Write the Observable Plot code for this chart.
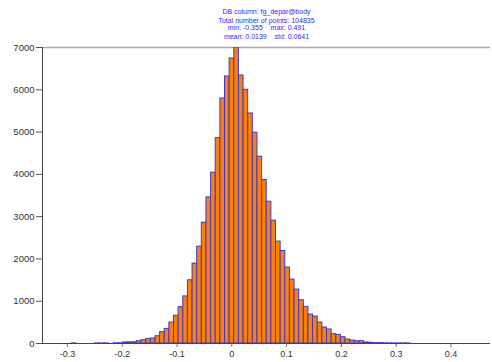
<!DOCTYPE html>
<html>
<head>
<meta charset="utf-8">
<script src="https://cdn.jsdelivr.net/npm/d3@7"></script>
<script src="https://cdn.jsdelivr.net/npm/@observablehq/plot@0.6"></script>
<style>
  html, body { margin: 0; padding: 0; background: #fff; }
  svg { display: block; }
</style>
</head>
<body>
<div id="chart"></div>
<script>
// Title lines
const titleLines = [
  "DB column: fg_depar@body",
  "Total number of points: 104835",
  "min: -0.355    max: 0.491",
  "mean: 0.0139    std: 0.0641"
];

// Histogram bins: centres at binStart + i * binWidth (i = 0..100)
const binStart = -0.355;
const binWidth = 0.00846;
const counts = [
  1, 0, 0, 0, 0, 0, 0, 0, 2, 0,
  0, 0, 0, 3, 1, 2, 0, 4, 5, 24,
  27, 30, 55, 78, 108, 118, 172, 267, 345, 495,
  656, 858, 1113, 1495, 1890, 2290, 2858, 3456, 4040, 4857,
  5795, 6315, 6740, 7000, 6338, 6000, 5440, 4984, 4417, 3866,
  3354, 2905, 2410, 2188, 1795, 1512, 1275, 1023, 865, 685,
  638, 496, 378, 331, 220, 203, 149, 94, 71, 54,
  54, 24, 16, 8, 8, 5, 3, 2, 2, 2,
  2, 0, 0, 0, 0, 0, 0, 0, 0, 0,
  0, 0, 0, 0, 0, 0, 0, 0, 0, 0,
  1
];

// Axis ticks
const xTicks = [-0.3, -0.2, -0.1, 0, 0.1, 0.2, 0.3, 0.4];
const xTickLabels = ["-0.3", "-0.2", "-0.1", "0", "0.1", "0.2", "0.3", "0.4"];
const yTicks = [0, 1000, 2000, 3000, 4000, 5000, 6000, 7000];
const yTickLabels = ["0", "1000", "2000", "3000", "4000", "5000", "6000", "7000"];

const bins = counts
  .map((c, i) => ({
    x1: binStart + (i - 0.5) * binWidth,
    x2: binStart + (i + 0.5) * binWidth,
    count: c
  }))
  .filter(d => d.count > 0);

const font = "'Liberation Sans', Arial, Helvetica, sans-serif";
const titleY = [11.5, 20.5, 28, 36.3];

const chart = Plot.plot({
  width: 492,
  height: 362,
  marginLeft: 42,
  marginRight: 2,
  marginTop: 47,
  marginBottom: 19,
  style: { fontFamily: font, fontSize: "9px", color: "#333", background: "#fff" },
  x: { domain: [-0.3454, 0.4721] },
  y: { domain: [0, 7000] },
  marks: [
    Plot.ruleY([7000], { stroke: "#aaa", strokeWidth: 1.5 }),
    Plot.rectY(bins, {
      x1: "x1", x2: "x2", y: "count",
      fill: "#ff7f00", stroke: "#3a3ad8", strokeWidth: 1, clip: true
    }),
    Plot.axisX({
      ticks: xTicks,
      tickFormat: (d, i) => xTickLabels[i],
      tickSize: 4, tickPadding: 3, label: null, stroke: "#777", fill: "#333", fontSize: 9
    }),
    Plot.axisY({
      ticks: yTicks,
      tickFormat: (d, i) => yTickLabels[i],
      tickSize: 6, tickPadding: 2, label: null, stroke: "#555", fill: "#333", fontSize: 9.5
    }),
    Plot.ruleY([0], { stroke: "#444" }),
    Plot.ruleX([-0.3454], { stroke: "#444" }),
    ...titleLines.map((t, i) => Plot.text([t], {
      frameAnchor: "top", dy: titleY[i] - 47 - 3, text: d => d,
      fill: "#2a2aff", fontSize: 7, fontFamily: font, textAnchor: "middle"
    }))
  ]
});

document.getElementById("chart").appendChild(chart);
</script>
</body>
</html>
